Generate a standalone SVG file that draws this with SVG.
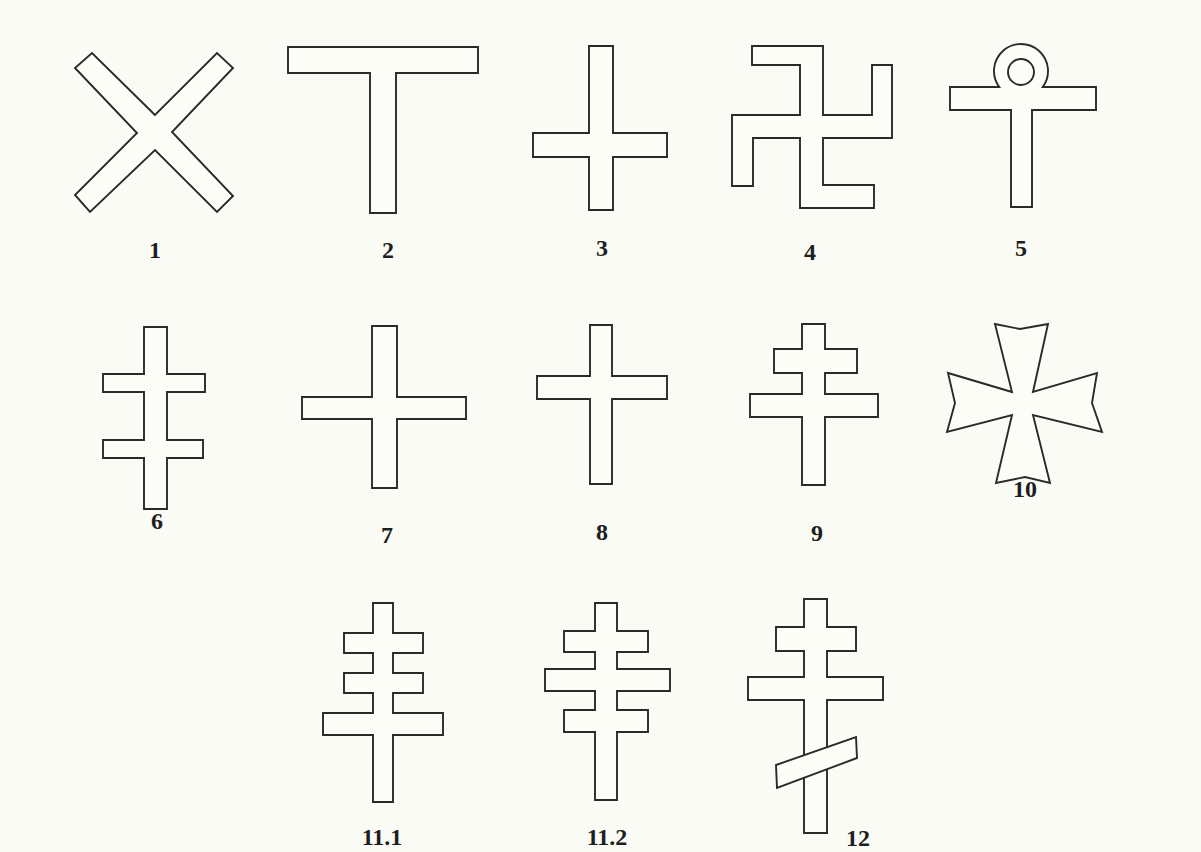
<svg xmlns="http://www.w3.org/2000/svg" width="1201" height="852" viewBox="0 0 1201 852">
<style>
.s{fill:#fdfdf8;stroke:#2a2a2a;stroke-width:1.9;stroke-linejoin:miter}
.l{font-family:"Liberation Serif",serif;font-weight:bold;font-size:24px;fill:#1e1e1e;text-anchor:middle}
</style>
<rect width="1201" height="852" fill="#fbfbf5"/>
<g id="cross1"><polygon class="s" points="155,115 92,53 75,68 137,133 75,195 90,212 155,150 217,212 233,196 172,132 233,68 217,53"/><text class="l" x="155" y="258">1</text></g>
<g id="cross2"><polygon class="s" points="288,47 478,47 478,73 396,73 396,213 370,213 370,73 288,73"/><text class="l" x="388" y="258">2</text></g>
<g id="cross3"><polygon class="s" points="589,46 613,46 613,133 667,133 667,157 613,157 613,210 589,210 589,157 533,157 533,133 589,133"/><text class="l" x="602" y="256">3</text></g>
<g id="cross4"><polygon class="s" points="752,46 823,46 823,115 872,115 872,65 892,65 892,138 823,138 823,185 874,185 874,208 800,208 800,138 753,138 753,186 732,186 732,115 800,115 800,65 752,65"/><text class="l" x="810" y="260">4</text></g>
<g id="cross5"><path class="s" d="M999.3,87 A27,27 0 1 1 1042.7,87 L1096,87 L1096,110 L1032,110 L1032,207 L1011,207 L1011,110 L950,110 L950,87 Z"/><circle class="s" cx="1021" cy="72" r="13"/><text class="l" x="1021" y="256">5</text></g>
<g id="cross6"><polygon class="s" points="144,327 167,327 167,374 205,374 205,392 167,392 167,440 203,440 203,458 167,458 167,509 144,509 144,458 103,458 103,440 144,440 144,392 103,392 103,374 144,374"/><text class="l" x="157" y="529">6</text></g>
<g id="cross7"><polygon class="s" points="372,326 397,326 397,397 466,397 466,419 397,419 397,488 372,488 372,419 302,419 302,397 372,397"/><text class="l" x="387" y="543">7</text></g>
<g id="cross8"><polygon class="s" points="590,325 612,325 612,376 667,376 667,399 612,399 612,484 590,484 590,399 537,399 537,376 590,376"/><text class="l" x="602" y="540">8</text></g>
<g id="cross9"><polygon class="s" points="802,324 825,324 825,349 857,349 857,373 825,373 825,394 878,394 878,417 825,417 825,485 802,485 802,417 750,417 750,394 802,394 802,373 774,373 774,349 802,349"/><text class="l" x="817" y="541">9</text></g>
<g id="cross10"><polygon class="s" points="995,324 1020,329 1048,324 1033,392 1097,373 1092,403 1102,432 1033,415 1050,483 1025,477 996,483 1012,415 947,432 955,403 948,373 1012,392"/><text class="l" x="1025" y="497">10</text></g>
<g id="cross11-1"><polygon class="s" points="373,603 393,603 393,633 423,633 423,653 393,653 393,673 423,673 423,693 393,693 393,713 443,713 443,735 393,735 393,802 373,802 373,735 323,735 323,713 373,713 373,693 344,693 344,673 373,673 373,653 344,653 344,633 373,633"/><text class="l" x="382" y="845">11.1</text></g>
<g id="cross11-2"><polygon class="s" points="595,603 617,603 617,631 648,631 648,652 617,652 617,669 670,669 670,691 617,691 617,710 648,710 648,732 617,732 617,800 595,800 595,732 564,732 564,710 595,710 595,691 545,691 545,669 595,669 595,652 564,652 564,631 595,631"/><text class="l" x="607" y="845">11.2</text></g>
<g id="cross12"><polygon class="s" points="804,599 827,599 827,627 856,627 856,651 827,651 827,677 883,677 883,700 827,700 827,833 804,833 804,700 748,700 748,677 804,677 804,651 776,651 776,627 804,627"/><polygon class="s" points="776,765 856,737 857,758 777,788"/><text class="l" x="858" y="846">12</text></g>
</svg>
